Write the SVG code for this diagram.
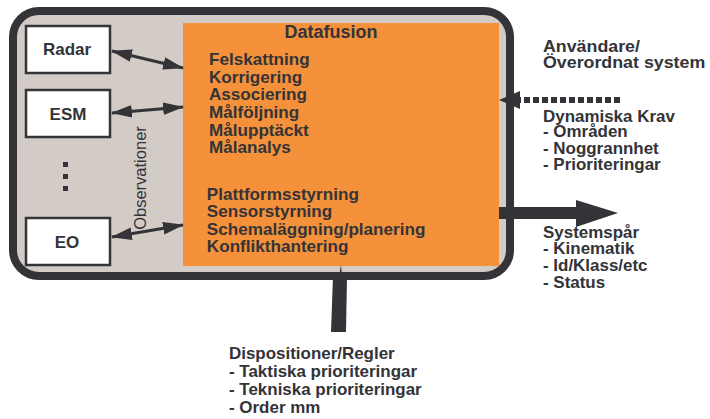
<svg xmlns="http://www.w3.org/2000/svg" width="710" height="419" viewBox="0 0 710 419">
  <defs>
    <style>
      .t { font-family: "Liberation Sans", Arial, sans-serif; font-weight: bold; fill: #333338; }
      .box { fill: #ffffff; stroke: #333338; stroke-width: 2.5; }
      .lbl { font-family: "Liberation Sans", Arial, sans-serif; font-weight: bold; font-size: 17px; fill: #333338; text-anchor: middle; }
      .conn { stroke: #333338; stroke-width: 3; fill: none; }
    </style>
    <marker id="ah" viewBox="0 0 10 6" refX="9.5" refY="3" markerWidth="7" markerHeight="4.2" orient="auto-start-reverse" markerUnits="strokeWidth">
      <path d="M0,0 L10,3 L0,6 Z" fill="#333338"/>
    </marker>
  </defs>
  <rect width="710" height="419" fill="#ffffff"/>

  <!-- outer system frame -->
  <g id="system">
    <rect x="13" y="11" width="497" height="265" rx="26" ry="26" fill="#d3cbc6" stroke="#333338" stroke-width="8"/>
  </g>

  <!-- fusion core -->
  <g id="datafusion">
    <rect x="183" y="23" width="316" height="243" fill="#f5913a"/>
    <text class="t" x="331" y="38" font-size="18" text-anchor="middle">Datafusion</text>
    <g class="t" font-size="16" transform="translate(209 0) scale(1.07 1) translate(-209 0)">
      <text x="209" y="65">Felskattning</text>
      <text x="209" y="83">Korrigering</text>
      <text x="209" y="100">Associering</text>
      <text x="209" y="118">Målföljning</text>
      <text x="209" y="136">Målupptäckt</text>
      <text x="209" y="153">Målanalys</text>
      <text x="207" y="200">Plattformsstyrning</text>
      <text x="207" y="217">Sensorstyrning</text>
      <text x="207" y="235">Schemaläggning/planering</text>
      <text x="207" y="252">Konflikthantering</text>
    </g>
  </g>

  <!-- sensors -->
  <g id="radar">
    <rect class="box" x="26" y="26" width="84" height="47"/>
    <text class="lbl" x="67" y="55">Radar</text>
  </g>
  <g id="esm">
    <rect class="box" x="26" y="90" width="84" height="47"/>
    <text class="lbl" x="68" y="120">ESM</text>
  </g>
  <g id="more">
    <rect x="63" y="162" width="5" height="5" fill="#333338"/>
    <rect x="63" y="174" width="5" height="5" fill="#333338"/>
    <rect x="63" y="186" width="5" height="5" fill="#333338"/>
  </g>
  <g id="eo">
    <rect class="box" x="26" y="218" width="84" height="47"/>
    <text class="lbl" x="67" y="248">EO</text>
  </g>

  <text x="146" y="178" transform="rotate(-90 146 178)" text-anchor="middle" font-family="'Liberation Sans', Arial, sans-serif" font-size="16.5" fill="#333338">Observationer</text>

  <!-- connectors -->
  <g id="connectors">
    <line class="conn" x1="112" y1="51" x2="183" y2="68" marker-start="url(#ah)" marker-end="url(#ah)"/>
    <line class="conn" x1="112" y1="113" x2="183" y2="107" marker-start="url(#ah)" marker-end="url(#ah)"/>
    <line class="conn" x1="112" y1="237" x2="183" y2="225" marker-start="url(#ah)" marker-end="url(#ah)"/>
    <!-- demands from user (dotted) -->
    <line x1="620" y1="100" x2="518" y2="100" stroke="#333338" stroke-width="6" stroke-dasharray="6,3"/>
    <path d="M499,100 L520,91 L520,109 Z" fill="#333338"/>
    <!-- system tracks out -->
    <rect x="499" y="207" width="79" height="12" fill="#333338"/>
    <path d="M576,200 L618,213 L576,227 Z" fill="#333338"/>
    <!-- rules in -->
    <path d="M331,332 L346,332 L347,276 L342,276 L341,265 L339,276 L333,276 Z" fill="#333338"/>
  </g>

  <!-- external labels -->
  <g class="t" font-size="16.5" transform="translate(543 0) scale(1.08 1) translate(-543 0)">
    <text x="543" y="52">Användare/</text>
    <text x="543" y="68">Överordnat system</text>
  </g>
  <g class="t" font-size="15.7" transform="translate(543 0) scale(1.08 1) translate(-543 0)">
    <text x="543" y="122">Dynamiska Krav</text>
    <text x="543" y="137">- Områden</text>
    <text x="543" y="154">- Noggrannhet</text>
    <text x="543" y="170">- Prioriteringar</text>
    <text x="543" y="238">Systemspår</text>
    <text x="543" y="254">- Kinematik</text>
    <text x="543" y="271">- Id/Klass/etc</text>
    <text x="543" y="288">- Status</text>
  </g>
  <g class="t" font-size="15.7" transform="translate(229 0) scale(1.08 1) translate(-229 0)">
    <text x="229" y="359">Dispositioner/Regler</text>
    <text x="229" y="377">- Taktiska prioriteringar</text>
    <text x="229" y="395">- Tekniska prioriteringar</text>
    <text x="229" y="413">- Order mm</text>
  </g>
</svg>
